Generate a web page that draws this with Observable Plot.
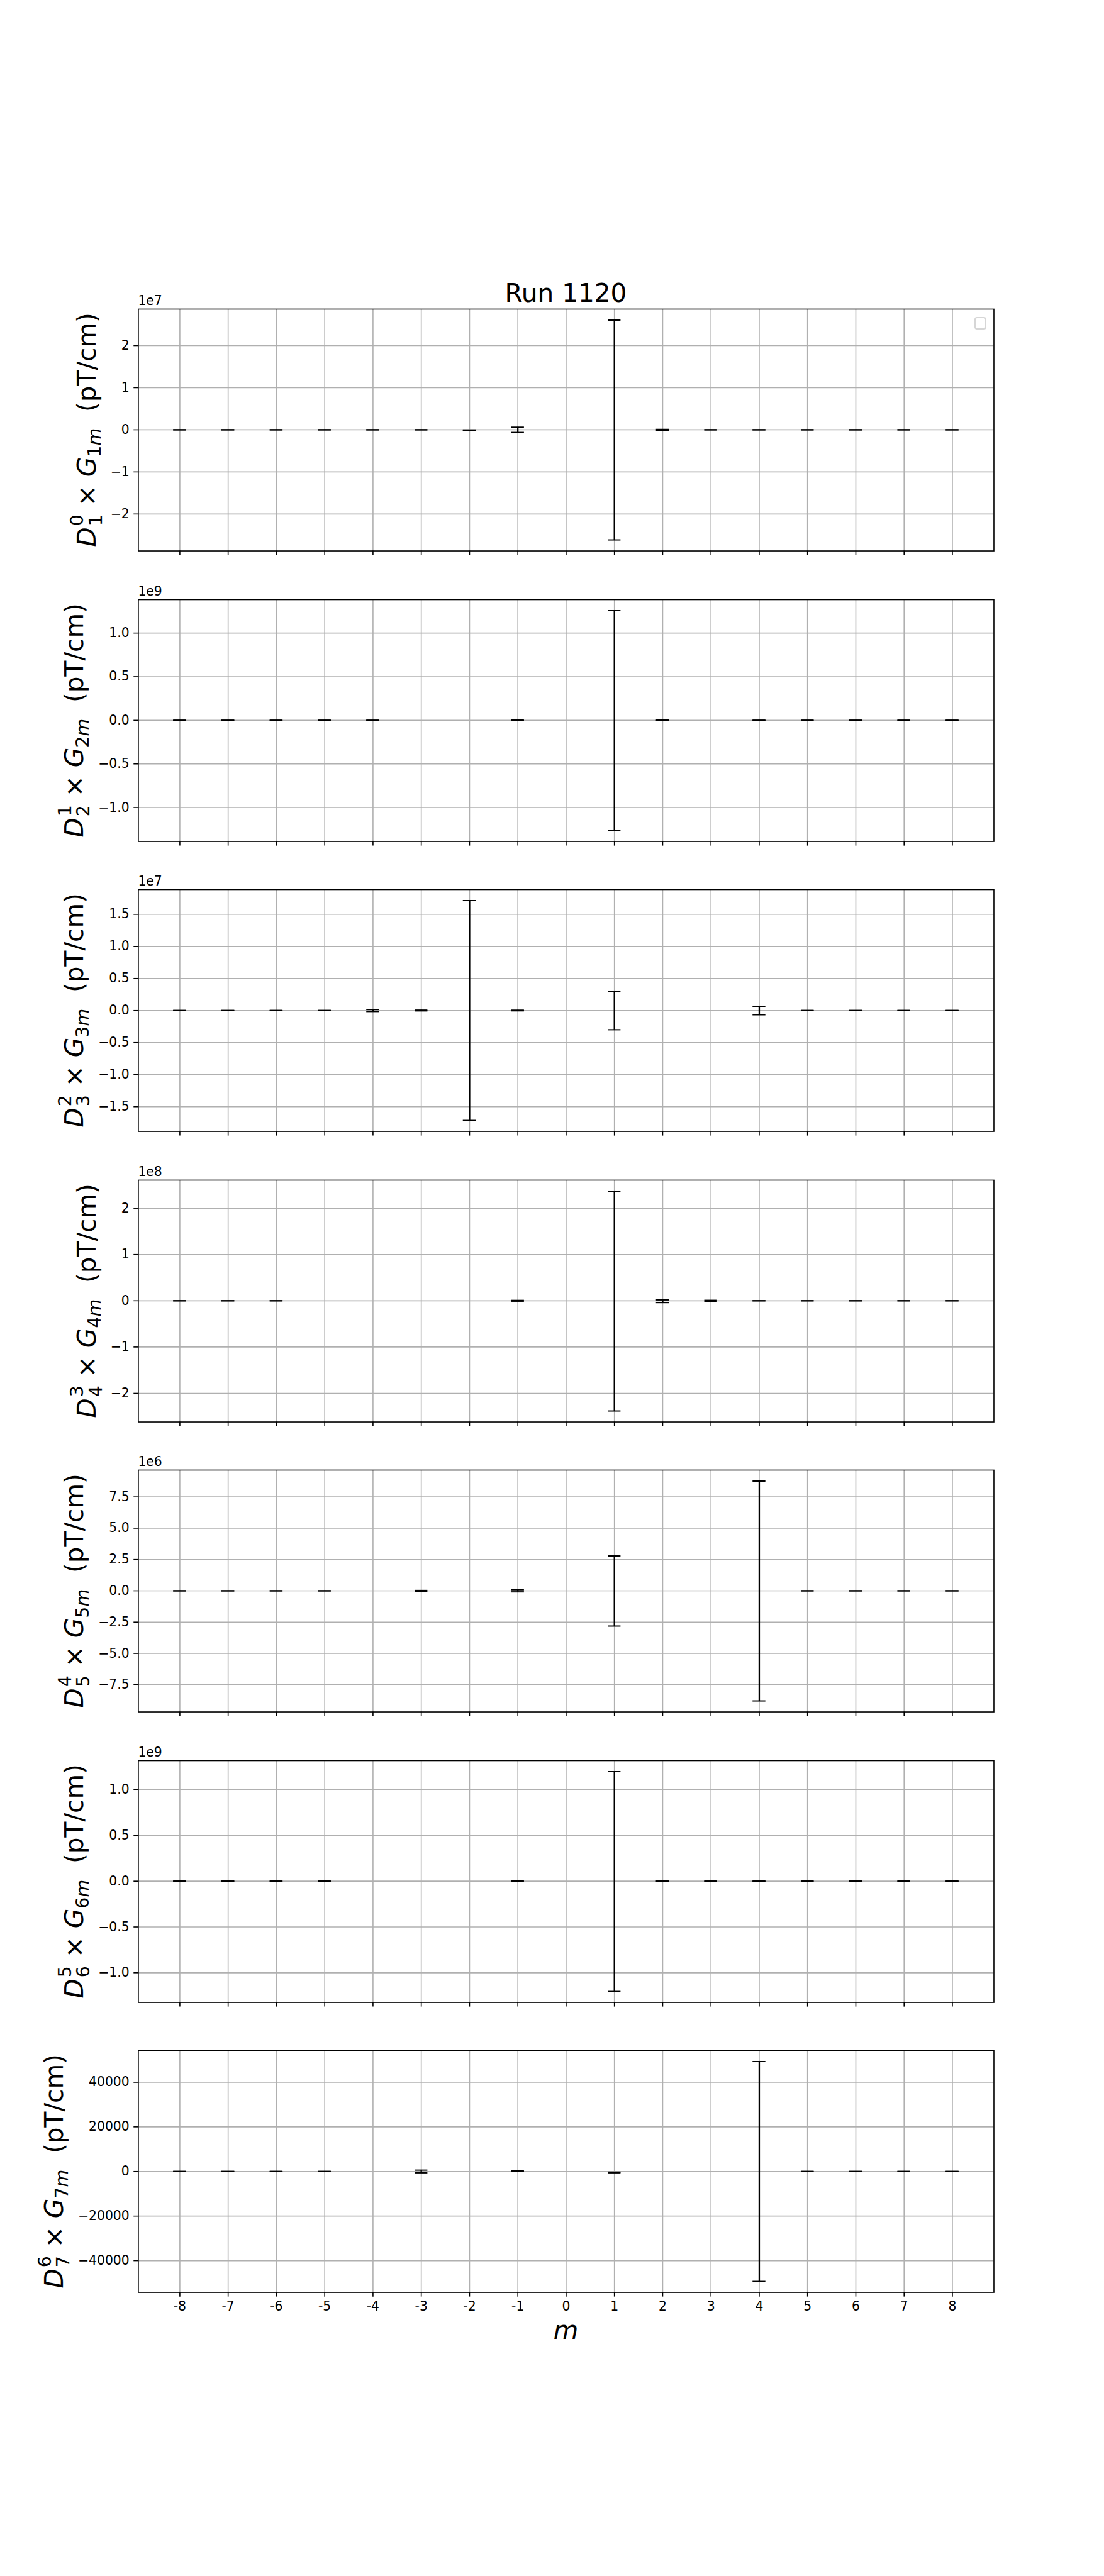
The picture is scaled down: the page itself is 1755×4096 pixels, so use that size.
<!DOCTYPE html>
<html><head><meta charset="utf-8">
<script src="https://cdn.jsdelivr.net/npm/d3@7"></script>
<script src="https://cdn.jsdelivr.net/npm/@observablehq/plot@0.6"></script>
<style>
html,body{margin:0;padding:0;background:#fff;}
#fig{position:relative;width:1755px;height:4096px;background:#fff;font-family:"DejaVu Sans";overflow:hidden;}
#fig svg{position:absolute;left:0;}
#title{position:absolute;left:219.4px;width:1360.1px;top:446px;text-align:center;font-size:40.6px;line-height:40.6px;color:#000;font-family:"DejaVu Sans";}
#legendbox{position:absolute;left:1548.5px;top:503.5px;width:15px;height:16px;border:2px solid #d6d6d6;border-radius:4px;background:rgba(255,255,255,0.8);}
</style></head><body>
<div id="fig"><div id="title"></div></div>
<script>
// ---------------- data ----------------
const titleText = "Run 1120";
const xLabelText = "m";
const mValues = [-8,-7,-6,-5,-4,-3,-2,-1,0,1,2,3,4,5,6,7,8];
const xTickLabels = ["-8","-7","-6","-5","-4","-3","-2","-1","0","1","2","3","4","5","6","7","8"];
const xDomain = [-8.86, 8.86];

// panel index labels: D_{n}^{n-1} x G_{nm}
const labelLower = ["1","2","3","4","5","6","7"];
const labelUpper = ["0","1","2","3","4","5","6"];

// central values (pT/cm) per m, null = not plotted
const val1 = [0,0,0,0,0,0,-1.4e5,0,null,-5e4,0,0,0,0,0,0,0];
const err1 = [2e4,2e4,2e4,2e4,2e4,2e4,1e5,6.2e5,null,2.61e7,1e5,2e4,2e4,2e4,2e4,2e4,2e4];
const val2 = [0,0,0,0,0,null,null,0,null,-3e6,0,null,0,0,0,0,0];
const err2 = [1e6,1e6,1e6,1e6,1e6,null,null,4.5e6,null,1.26e9,4.5e6,null,1e6,1e6,1e6,1e6,1e6];
const val3 = [0,0,0,0,0,0,0,0,null,0,null,null,0,0,0,0,0];
const err3 = [7e3,7e3,7e3,7e3,1.6e5,6e4,1.714e7,5e4,null,3.0e6,null,null,6.6e5,7e3,7e3,7e3,7e3];
const val4 = [0,0,0,null,null,null,null,0,null,-6e5,-1e6,0,0,0,0,0,0];
const err4 = [1e5,1e5,1e5,null,null,null,null,8.5e5,null,2.375e8,2.9e6,1e6,1e5,1e5,1e5,1e5,1e5];
const val5 = [0,0,0,0,null,0,null,0,null,-1.5e4,null,null,-1.5e4,0,0,0,0];
const err5 = [3e3,3e3,3e3,3e3,null,3e4,null,8.5e4,null,2.8e6,null,null,8.78e6,3e3,3e3,3e3,3e3];
const val6 = [0,0,0,0,null,null,null,0,null,-4e6,0,0,0,0,0,0,0];
const err6 = [5e5,5e5,5e5,5e5,null,null,null,4.5e6,null,1.2e9,5e5,5e5,5e5,5e5,5e5,5e5,5e5];
const val7 = [0,0,0,0,null,0,null,150,null,-450,null,null,0,0,0,0,0];
const err7 = [20,20,20,20,null,600,null,100,null,150,null,null,4.93e4,20,20,20,20];

// y tick values (pT/cm), offset exponent and decimals of tick labels
const yTicks1 = [-2e7,-1e7,0,1e7,2e7];            const yExp1 = 7; const yDec1 = 0;
const yTicks2 = [-1e9,-0.5e9,0,0.5e9,1e9];        const yExp2 = 9; const yDec2 = 1;
const yTicks3 = [-1.5e7,-1e7,-0.5e7,0,0.5e7,1e7,1.5e7]; const yExp3 = 7; const yDec3 = 1;
const yTicks4 = [-2e8,-1e8,0,1e8,2e8];            const yExp4 = 8; const yDec4 = 0;
const yTicks5 = [-7.5e6,-5e6,-2.5e6,0,2.5e6,5e6,7.5e6]; const yExp5 = 6; const yDec5 = 1;
const yTicks6 = [-1e9,-0.5e9,0,0.5e9,1e9];        const yExp6 = 9; const yDec6 = 1;
const yTicks7 = [-40000,-20000,0,20000,40000];    const yExp7 = 0; const yDec7 = 0;

// ---------------- layout ----------------
const S = 1755/2400;
const W = 1755;
const ML = 300*S, MR = (2400-2160)*S;
const axH = 4312/8.2;                     // axes height (reference px)
const panelTop = i => (672 + i*1.2*axH)*S;
const H = axH*S;
const tickFont = 27.8*S;                  // 10pt @200dpi
const labelFont = 55.6*S;                 // 20pt @200dpi
const tickLen = 9.72*S, tickPad = 9.72*S;
const lw = 2.22*S;                        // 0.8pt

const panels = [
  {val: val1, err: err1, ticks: yTicks1, exp: yExp1, dec: yDec1},
  {val: val2, err: err2, ticks: yTicks2, exp: yExp2, dec: yDec2},
  {val: val3, err: err3, ticks: yTicks3, exp: yExp3, dec: yDec3},
  {val: val4, err: err4, ticks: yTicks4, exp: yExp4, dec: yDec4},
  {val: val5, err: err5, ticks: yTicks5, exp: yExp5, dec: yDec5},
  {val: val6, err: err6, ticks: yTicks6, exp: yExp6, dec: yDec6},
  {val: val7, err: err7, ticks: yTicks7, exp: yExp7, dec: yDec7},
];

const fig = document.getElementById("fig");
document.getElementById("title").textContent = titleText;

const fmt = (exp, dec) => d => {
  const s = (d / Math.pow(10, exp)).toFixed(dec);
  return (Math.abs(d) < 1e-12 ? s.replace("-", "") : s).replace("-", "\u2212");
};

panels.forEach((p, i) => {
  const last = i === panels.length - 1;
  const rows = mValues.map((m, k) => ({m, v: p.val[k], e: p.err[k]}))
    .filter(r => r.v != null && r.e != null)
    .map(r => ({m: r.m, lo: r.v - r.e, hi: r.v + r.e}));
  const lo = d3.min(rows, r => r.lo), hi = d3.max(rows, r => r.hi);
  const pad = 0.05*(hi - lo);
  const MT = 40, MB = last ? 110 : 40;
  const plot = Plot.plot({
    width: W, height: MT + H + MB,
    marginLeft: ML, marginRight: MR, marginTop: MT, marginBottom: MB,
    style: {fontFamily: "DejaVu Sans", fontSize: tickFont + "px", color: "black", background: "transparent", overflow: "visible"},
    x: {type: "linear", domain: xDomain},
    y: {type: "linear", domain: [lo - pad, hi + pad]},
    marks: [
      Plot.gridX(mValues, {stroke: "#b0b0b0", strokeOpacity: 1, strokeWidth: lw}),
      Plot.gridY(p.ticks, {stroke: "#b0b0b0", strokeOpacity: 1, strokeWidth: lw}),
      Plot.ruleX(rows, {x: "m", y1: "lo", y2: "hi", stroke: "black", strokeWidth: 2.3}),
      Plot.ruleY(rows, {x1: "m", x2: "m", y: "lo", insetLeft: -10.2, insetRight: -10.2, stroke: "black", strokeWidth: 2}),
      Plot.ruleY(rows, {x1: "m", x2: "m", y: "hi", insetLeft: -10.2, insetRight: -10.2, stroke: "black", strokeWidth: 2}),
      Plot.frame({stroke: "black", strokeWidth: lw}),
      Plot.axisX(mValues, {tickSize: tickLen, tickPadding: tickPad, strokeWidth: lw, label: null,
        tickFormat: last ? (d => xTickLabels[mValues.indexOf(d)]) : (() => "")}),
      Plot.axisY(p.ticks, {tickSize: tickLen, tickPadding: tickPad, strokeWidth: lw, label: null,
        tickFormat: fmt(p.exp, p.dec)})
    ]
  });
  plot.style.top = (panelTop(i) - MT) + "px";
  fig.appendChild(plot);

  const svg = d3.select(plot);
  // offset text (e.g. 1e7)
  if (p.exp !== 0) {
    svg.append("text").attr("x", ML).attr("y", MT - 5.9)
      .attr("text-anchor", "start").attr("font-size", tickFont).attr("fill", "black")
      .text("1e" + p.exp);
  }
  // y label position: left of tick labels
  const sr = plot.getBoundingClientRect();
  let minLeft = Infinity;
  plot.querySelectorAll('g[aria-label="y-axis tick label"] text').forEach(t => {
    const r = t.getBoundingClientRect();
    if (r.width > 0) minLeft = Math.min(minLeft, r.left - sr.left);
  });
  const bx = minLeft - 24;
  const by = MT + H/2;
  const F = labelFont, f2 = 0.7*F;
  const supUp = 0.48*F, subDown = 0.245*F, subDown2 = 0.2*F;
  const t = svg.append("text")
    .attr("transform", `translate(${bx},${by}) rotate(-90)`)
    .attr("text-anchor", "middle").attr("font-size", F).attr("fill", "black")
    .style("white-space", "pre");
  t.append("tspan").attr("font-style", "italic").text("D");
  t.append("tspan").attr("font-size", f2).attr("dx", 2).attr("dy", -supUp).text(labelUpper[i]);
  t.append("tspan").attr("font-size", f2).attr("dx", -0.636*f2).attr("dy", supUp + subDown).text(labelLower[i]);
  t.append("tspan").attr("dy", -subDown).text(" \u00d7 ");
  t.append("tspan").attr("font-style", "italic").text("G");
  t.append("tspan").attr("font-size", f2).attr("dy", subDown2).text(labelLower[i]);
  t.append("tspan").attr("font-size", f2).attr("font-style", "italic").text("m");
  t.append("tspan").attr("dy", -subDown2).text("  (pT/cm)");

  if (last) {
    svg.append("text").attr("x", ML + (W - ML - MR)/2).attr("y", MT + H + 74)
      .attr("text-anchor", "middle").attr("font-size", F).attr("font-style", "italic")
      .attr("fill", "black").text(xLabelText);
  }
  if (i === 0) {
    const lb = document.createElement("div");
    lb.id = "legendbox";
    fig.appendChild(lb);
  }
});
</script>
</body></html>
